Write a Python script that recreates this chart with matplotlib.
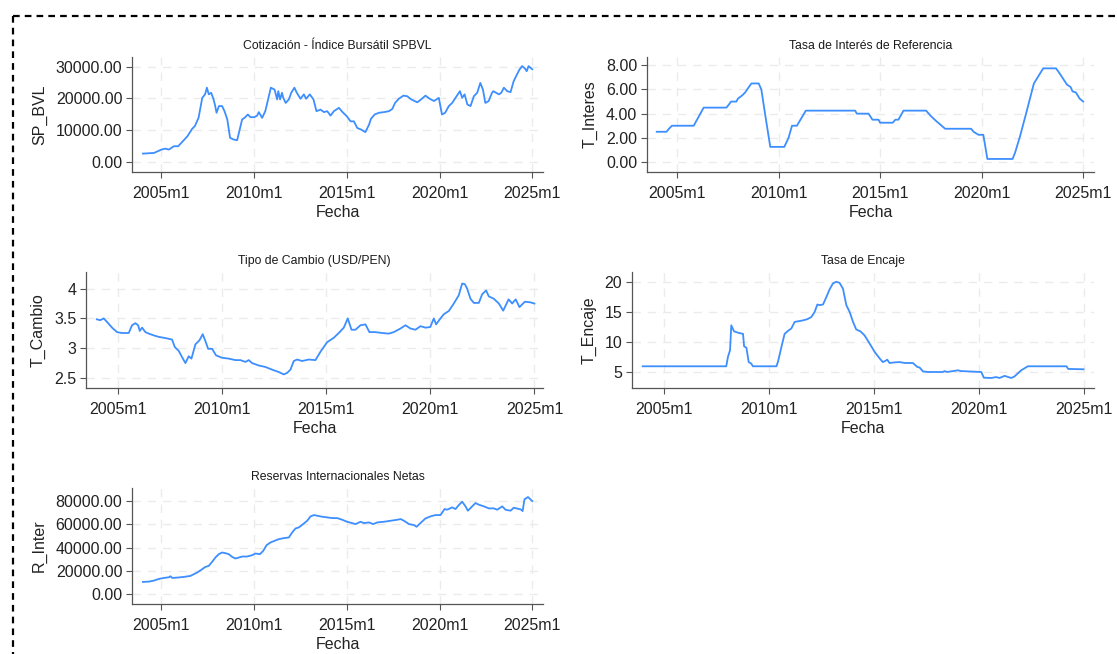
import numpy as np
import matplotlib
matplotlib.use("Agg")
import matplotlib.pyplot as plt
from matplotlib.lines import Line2D
from matplotlib.ticker import FuncFormatter

plt.rcParams["font.family"] = ["Liberation Sans", "DejaVu Sans"]

W, H = 1117, 654
LINE_COLOR = "#3d8eff"

# --- data (decimal years) ---
sp_dates = [2004.00, 2004.60, 2004.80, 2005.00, 2005.20, 2005.40, 2005.67, 2005.90, 2006.10, 2006.40,
            2006.65, 2006.80, 2007.00, 2007.20, 2007.35, 2007.45, 2007.55, 2007.68, 2007.80, 2007.88,
            2007.97, 2008.10, 2008.27, 2008.40, 2008.55, 2008.70, 2008.90, 2009.08, 2009.22, 2009.35,
            2009.48, 2009.66, 2009.80, 2010.00, 2010.16, 2010.25, 2010.43, 2010.60, 2010.75, 2010.90,
            2011.10, 2011.24, 2011.30, 2011.40, 2011.50, 2011.57, 2011.70, 2011.87, 2012.00, 2012.17,
            2012.30, 2012.50, 2012.68, 2012.80, 2013.00, 2013.20, 2013.36, 2013.58, 2013.76, 2013.94,
            2014.12, 2014.30, 2014.57, 2014.80, 2015.00, 2015.20, 2015.38, 2015.56, 2015.77, 2016.00,
            2016.20, 2016.30, 2016.50, 2016.73, 2017.00, 2017.27, 2017.45, 2017.60, 2017.80, 2018.05,
            2018.26, 2018.47, 2018.80, 2019.00, 2019.24, 2019.47, 2019.70, 2019.96, 2020.13, 2020.30,
            2020.50, 2020.68, 2020.86, 2021.10, 2021.22, 2021.35, 2021.50, 2021.67, 2021.85, 2022.03,
            2022.20, 2022.34, 2022.47, 2022.65, 2022.83, 2022.90, 2023.05, 2023.20, 2023.33, 2023.47,
            2023.65, 2023.83, 2024.00, 2024.30, 2024.45, 2024.60, 2024.70, 2024.80, 2025.00]
sp_bvl = [2630, 2840, 3370, 3900, 4200, 3900, 4950, 4950, 6200, 8100,
          10400, 11300, 13900, 20200, 21300, 23400, 21300, 21800, 19900, 18100,
          15500, 17600, 17600, 16000, 13400, 7600, 7050, 6850, 10200, 13400,
          13900, 14950, 14100, 14100, 14600, 15700, 13900, 16000, 19700, 23400,
          22800, 19700, 22300, 19700, 21800, 20200, 18600, 19700, 21800, 23400,
          21800, 19900, 21300, 19900, 21300, 19700, 16000, 16500, 15700, 16000,
          14600, 16000, 17050, 15500, 14400, 12800, 12800, 10700, 10200, 9400,
          11800, 13600, 14950, 15500, 15700, 16000, 16700, 18600, 19900, 20900,
          20700, 19700, 18800, 19700, 20900, 19900, 19200, 20200, 14950, 15500,
          17600, 18600, 20200, 22300, 20200, 21300, 18100, 17600, 20700, 21800,
          24900, 22800, 18600, 19200, 21800, 22300, 21800, 21300, 21800, 23400,
          22300, 22000, 25500, 29000, 30200, 29500, 28600, 30200, 29200]

int_dates = [2004.00, 2004.48, 2004.60, 2004.75, 2005.82, 2006.31, 2007.43, 2007.55, 2007.66, 2007.92,
             2008.00, 2008.20, 2008.35, 2008.45, 2008.66, 2009.02, 2009.15, 2009.35, 2009.59, 2010.28,
             2010.49, 2010.66, 2010.90, 2011.34, 2013.77, 2013.85, 2014.43, 2014.62, 2014.92, 2015.00,
             2015.62, 2015.75, 2015.90, 2016.15, 2017.26, 2017.50, 2017.75, 2018.03, 2018.20, 2019.48,
             2019.60, 2019.84, 2020.08, 2020.28, 2021.52, 2021.64, 2021.89, 2022.20, 2022.57, 2022.79,
             2023.03, 2023.66, 2023.85, 2024.20, 2024.38, 2024.47, 2024.64, 2024.82, 2025.00]
t_interes = [2.5, 2.5, 2.75, 3.0, 3.0, 4.5, 4.5, 4.75, 5.0, 5.0,
             5.25, 5.5, 5.75, 6.0, 6.5, 6.5, 6.0, 3.8, 1.25, 1.25,
             2.0, 3.0, 3.0, 4.25, 4.25, 4.0, 4.0, 3.5, 3.5, 3.25,
             3.25, 3.5, 3.5, 4.25, 4.25, 3.8, 3.4, 3.0, 2.75, 2.75,
             2.5, 2.25, 2.25, 0.25, 0.25, 0.75, 2.14, 4.1, 6.5, 7.1,
             7.75, 7.75, 7.3, 6.4, 6.2, 5.85, 5.75, 5.25, 5.0]

tc_dates = [2004.00, 2004.16, 2004.33, 2004.49, 2004.73, 2004.97, 2005.20, 2005.53, 2005.69, 2005.85,
            2005.98, 2006.06, 2006.17, 2006.33, 2006.49, 2006.73, 2006.97, 2007.29, 2007.61, 2007.74,
            2007.93, 2008.09, 2008.25, 2008.41, 2008.54, 2008.73, 2008.92, 2009.08, 2009.21, 2009.34,
            2009.53, 2009.72, 2010.00, 2010.33, 2010.65, 2010.89, 2011.13, 2011.29, 2011.45, 2011.77,
            2012.09, 2012.41, 2012.73, 2012.97, 2013.13, 2013.29, 2013.45, 2013.61, 2013.85, 2014.17,
            2014.49, 2014.73, 2015.05, 2015.37, 2015.61, 2015.85, 2016.04, 2016.22, 2016.41, 2016.65,
            2016.89, 2017.08, 2017.37, 2017.69, 2018.01, 2018.25, 2018.57, 2018.81, 2019.05, 2019.29,
            2019.53, 2019.77, 2020.00, 2020.17, 2020.28, 2020.49, 2020.65, 2020.89, 2021.13, 2021.37,
            2021.53, 2021.66, 2021.77, 2021.93, 2022.09, 2022.33, 2022.49, 2022.68, 2022.81, 2023.05,
            2023.29, 2023.50, 2023.76, 2023.93, 2024.10, 2024.28, 2024.54, 2024.80, 2025.00]
t_cambio = [3.485, 3.47, 3.50, 3.44, 3.345, 3.27, 3.255, 3.255, 3.385, 3.42,
            3.385, 3.29, 3.345, 3.27, 3.245, 3.215, 3.19, 3.17, 3.145, 3.02,
            2.955, 2.85, 2.75, 2.865, 2.825, 3.065, 3.13, 3.235, 3.12, 2.99,
            2.99, 2.88, 2.84, 2.825, 2.80, 2.80, 2.77, 2.80, 2.75, 2.71,
            2.685, 2.64, 2.60, 2.56, 2.585, 2.64, 2.785, 2.81, 2.785, 2.81,
            2.80, 2.94, 3.10, 3.175, 3.255, 3.345, 3.50, 3.31, 3.31, 3.385,
            3.40, 3.27, 3.27, 3.255, 3.245, 3.27, 3.33, 3.385, 3.33, 3.31,
            3.37, 3.345, 3.355, 3.50, 3.40, 3.50, 3.57, 3.625, 3.75, 3.89,
            4.085, 4.075, 4.0, 3.83, 3.76, 3.76, 3.905, 3.97, 3.87, 3.83,
            3.75, 3.63, 3.82, 3.75, 3.82, 3.69, 3.78, 3.77, 3.75]

enc_dates = [2004.00, 2007.98, 2008.06, 2008.16, 2008.22, 2008.35, 2008.54, 2008.78, 2008.83, 2008.94,
             2009.05, 2009.17, 2009.25, 2010.37, 2010.44, 2010.60, 2010.76, 2010.92, 2011.08, 2011.24,
             2011.48, 2011.63, 2011.84, 2012.03, 2012.19, 2012.32, 2012.43, 2012.59, 2012.75, 2012.90,
             2013.06, 2013.22, 2013.38, 2013.54, 2013.70, 2013.86, 2014.02, 2014.17, 2014.38, 2014.57,
             2014.81, 2015.05, 2015.29, 2015.44, 2015.56, 2015.65, 2015.76, 2016.00, 2016.24, 2016.48,
             2016.87, 2017.08, 2017.19, 2017.35, 2017.59, 2018.30, 2018.38, 2018.50, 2019.02, 2019.17,
             2020.13, 2020.25, 2020.60, 2020.84, 2021.00, 2021.24, 2021.56, 2021.71, 2022.03, 2022.35,
             2024.19, 2024.27, 2025.00]
t_encaje = [6.0, 6.0, 7.56, 8.67, 12.83, 11.83, 11.6, 11.4, 9.33, 9.1,
            6.7, 6.45, 6.0, 6.0, 6.7, 9.1, 11.4, 11.9, 12.3, 13.4,
            13.55, 13.65, 13.85, 14.2, 15.05, 16.3, 16.2, 16.3, 17.55, 18.8,
            19.8, 20.1, 19.9, 18.95, 16.2, 15.05, 13.4, 12.15, 11.8, 11.15,
            9.8, 8.4, 7.3, 6.7, 6.9, 7.1, 6.55, 6.65, 6.7, 6.55,
            6.55, 5.9, 5.8, 5.15, 5.05, 5.05, 5.2, 5.05, 5.33, 5.2,
            5.05, 4.1, 4.05, 4.2, 4.05, 4.4, 4.05, 4.3, 5.33, 6.0,
            6.0, 5.56, 5.5]

rin_dates = [2004.00, 2004.32, 2004.59, 2004.86, 2005.13, 2005.40, 2005.49, 2005.58, 2005.85, 2006.20,
             2006.56, 2006.74, 2006.92, 2007.14, 2007.37, 2007.55, 2007.73, 2007.91, 2008.09, 2008.27,
             2008.45, 2008.63, 2008.81, 2008.99, 2009.17, 2009.35, 2009.62, 2009.89, 2010.07, 2010.31,
             2010.49, 2010.67, 2010.88, 2011.10, 2011.33, 2011.60, 2011.87, 2012.05, 2012.23, 2012.41,
             2012.64, 2012.86, 2013.04, 2013.22, 2013.40, 2013.67, 2013.94, 2014.21, 2014.48, 2014.75,
             2015.01, 2015.28, 2015.47, 2015.74, 2015.92, 2016.19, 2016.42, 2016.64, 2017.00, 2017.36,
             2017.72, 2017.90, 2018.08, 2018.35, 2018.62, 2018.76, 2018.97, 2019.24, 2019.51, 2019.78,
             2020.05, 2020.27, 2020.41, 2020.68, 2020.86, 2021.04, 2021.22, 2021.40, 2021.53, 2021.76,
             2021.94, 2022.12, 2022.39, 2022.66, 2022.93, 2023.11, 2023.38, 2023.56, 2023.83, 2024.00,
             2024.38, 2024.48, 2024.58, 2024.77, 2025.00]
r_inter = [10360, 10650, 11510, 12950, 13810, 14390, 15250, 13810, 14100, 14680,
           15540, 16980, 18420, 20720, 23310, 24170, 27630, 31370, 34250, 35690,
           35110, 34250, 31950, 30510, 31370, 32240, 32240, 33390, 34820, 34250,
           37130, 42020, 44320, 45760, 47200, 48060, 48640, 52960, 56410, 57280,
           60150, 63030, 66770, 67920, 67350, 66480, 65910, 65330, 65330, 63890,
           62160, 61010, 60150, 62160, 61010, 61590, 60150, 61590, 62160, 63030,
           63890, 64470, 63030, 60150, 59290, 57850, 61010, 65040, 66770, 67920,
           67920, 73100, 72530, 74540, 73100, 76560, 79440, 75410, 71670, 75410,
           78290, 76850, 75410, 73680, 73680, 72530, 75410, 72530, 71670, 74240,
           72800, 71370, 81440, 83450, 80000]

year_ticks = [2005, 2010, 2015, 2020, 2025]
year_labels = ["2005m1", "2010m1", "2015m1", "2020m1", "2025m1"]


def add_panel(fig, box, dates, values, title, ylabel, yticks, yfmt, xlim, ylim):
    # box is (left, top, right, bottom) in pixels
    l, t, r, b = box
    ax = fig.add_axes([l / W, 1 - b / H, (r - l) / W, (b - t) / H])
    ax.plot(dates, values, color=LINE_COLOR, lw=1.3)
    ax.set_xlim(*xlim)
    ax.set_ylim(*ylim)
    ax.set_xticks(year_ticks)
    ax.set_xticklabels(year_labels)
    ax.set_yticks(yticks)
    ax.yaxis.set_major_formatter(FuncFormatter(yfmt))
    ax.grid(True, color="#ebebeb", lw=1.0, linestyle=(0, (6, 5)))
    ax.set_axisbelow(True)
    for side in ["top", "right"]:
        ax.spines[side].set_visible(False)
    for side in ["left", "bottom"]:
        ax.spines[side].set_color("#555555")
        ax.spines[side].set_linewidth(0.9)
    ax.tick_params(direction="out", length=4, width=0.8, color="#555555",
                   labelsize=11.5, labelcolor="#222222", pad=3)
    ax.tick_params(axis="x", pad=6)
    ax.set_title(title, fontsize=8.8, color="#1a1a1a", pad=6)
    ax.set_xlabel("Fecha", fontsize=11.5, color="#222222", labelpad=3)
    ax.set_ylabel(ylabel, fontsize=11.5, color="#222222", labelpad=6)
    return ax


fig = plt.figure(figsize=(W / 100, H / 100), dpi=100)

fmt2 = lambda v, pos: f"{v:.2f}"
fmtg = lambda v, pos: f"{v:g}"

add_panel(fig, (132, 57, 543, 172), sp_dates, sp_bvl,
          "Cotización - Índice Bursátil SPBVL", "SP_BVL",
          [0, 10000, 20000, 30000], fmt2, (2003.41, 2025.58), (-3167, 33070))
add_panel(fig, (647, 57, 1094, 172), int_dates, t_interes,
          "Tasa de Interés de Referencia", "T_Interes",
          [0, 2, 4, 6, 8], fmt2, (2003.52, 2025.53), (-0.83, 8.69))
add_panel(fig, (86, 272, 543, 388), tc_dates, t_cambio,
          "Tipo de Cambio (USD/PEN)", "T_Cambio",
          [2.5, 3, 3.5, 4], fmtg, (2003.48, 2025.41), (2.332, 4.279))
add_panel(fig, (632, 272, 1094, 388), enc_dates, t_encaje,
          "Tasa de Encaje", "T_Encaje",
          [5, 10, 15, 20], fmtg, (2003.49, 2025.50), (2.38, 21.72))
add_panel(fig, (132, 488, 543, 604), rin_dates, r_inter,
          "Reservas Internacionales Netas", "R_Inter",
          [0, 20000, 40000, 60000, 80000], fmt2, (2003.41, 2025.58), (-8630, 91220))

# dashed frame around the combined graph (right/bottom edges fall outside the image)
frame = dict(color="black", lw=1.6, linestyle=(0, (3, 2.3)), transform=fig.transFigure)
fig.add_artist(Line2D([13 / W, 1.02], [1 - 16 / H, 1 - 16 / H], **frame))
fig.add_artist(Line2D([13 / W, 13 / W], [1 - 16 / H, -0.02], **frame))

fig.savefig("out.png", dpi=100)
